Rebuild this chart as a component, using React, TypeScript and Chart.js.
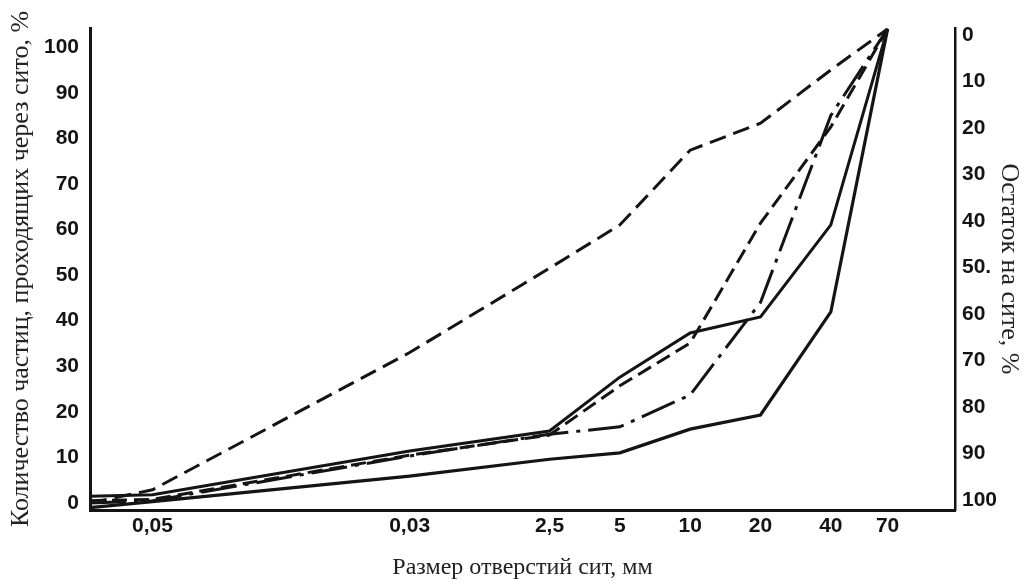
import React, { useEffect, useRef } from "react";
import { Chart, registerables } from "chart.js";

Chart.register(...registerables);

// Sieve openings, mm (first entry = origin of the axis where the curves start)
const sieveSizes = [0.027, 0.05, 0.63, 2.5, 5, 10, 20, 40, 70];
const xTickValues = [0.05, 0.63, 2.5, 5, 10, 20, 40, 70];
const xTickLabels = ["0,05", "0,03", "2,5", "5", "10", "20", "40", "70"];

// Passing through the sieve, %
const curveDashLong = [0, 2.9, 33, 51.5, 61, 77.4, 83.3, 95, 104];
const curveSolidUpper = [1.5, 1.8, 11.4, 15.8, 27.6, 37.3, 40.8, 61, 104];
const curveDashShort = [0.5, 0.8, 10.5, 14.9, 25.7, 35.1, 61.4, 82.5, 104];
const curveDashDot = [0, 0.5, 10.3, 15.1, 16.7, 23.7, 44, 85, 104];
const curveSolidLower = [-1, 0.3, 5.9, 9.6, 11, 16.2, 19.3, 41.9, 104];

const leftTicks = [0, 10, 20, 30, 40, 50, 60, 70, 80, 90, 100];
const rightTicks = [0, 10, 20, 30, 40, 50, 60, 70, 80, 90, 100];
const rightTickLabels = ["0", "10", "20", "30", "40", "50.", "60", "70", "80", "90", "100"];

const INK = "#141414";
const tickFont = {
  family: "'Liberation Sans', Arial, sans-serif",
  size: 21,
  weight: "bold" as const,
};
const vTitleFont = { family: "'Liberation Serif', 'DejaVu Serif', serif", size: 26 };
const hTitleFont = { family: "'Liberation Serif', 'DejaVu Serif', serif", size: 24 };

function series(values: number[]) {
  return values.map((v, i) => ({ x: sieveSizes[i], y: v }));
}

export default function App() {
  const ref = useRef<HTMLCanvasElement | null>(null);

  useEffect(() => {
    if (!ref.current) return;
    const common = {
      borderColor: INK,
      backgroundColor: INK,
      pointRadius: 0,
      tension: 0,
      fill: false,
      clip: false as const,
      borderCapStyle: "butt" as const,
      yAxisID: "y",
    };
    const chart = new Chart(ref.current, {
      type: "line",
      data: {
        datasets: [
          { ...common, label: "1", data: series(curveDashLong), borderWidth: 3, borderDash: [17, 8] },
          { ...common, label: "2", data: series(curveSolidUpper), borderWidth: 3 },
          { ...common, label: "3", data: series(curveDashShort), borderWidth: 3, borderDash: [15, 7] },
          { ...common, label: "4", data: series(curveDashDot), borderWidth: 3, borderDash: [36, 8, 4, 8] },
          { ...common, label: "5", data: series(curveSolidLower), borderWidth: 3.2 },
        ],
      },
      options: {
        animation: false,
        responsive: true,
        maintainAspectRatio: false,
        layout: { padding: { top: 28, left: 0, right: 0, bottom: 0 } },
        plugins: { legend: { display: false }, tooltip: { enabled: false } },
        scales: {
          x: {
            type: "logarithmic",
            min: 0.027,
            max: 136,
            grid: { display: false, drawTicks: false },
            border: { display: true, color: INK, width: 3 },
            afterBuildTicks: (scale: any) => {
              scale.ticks = xTickValues.map((v) => ({ value: v }));
            },
            afterFit: (scale: any) => {
              scale.height = 75;
            },
            ticks: {
              autoSkip: false,
              maxRotation: 0,
              padding: 4,
              color: INK,
              font: tickFont,
              callback: (_v: any, i: number) => xTickLabels[i],
            },
            title: {
              display: true,
              text: "Размер отверстий сит, мм",
              color: "#222",
              font: hTitleFont,
              padding: { top: 0, bottom: 3 },
            },
          },
          y: {
            type: "linear",
            position: "left",
            min: -1.54,
            max: 104.2,
            grid: { display: false, drawTicks: false },
            border: { display: true, color: INK, width: 3 },
            afterBuildTicks: (scale: any) => {
              scale.ticks = leftTicks.map((v) => ({ value: v }));
            },
            afterFit: (scale: any) => {
              scale.width = 90;
            },
            ticks: { padding: 11, color: INK, font: tickFont },
            title: {
              display: true,
              text: "Количество частиц, проходящих через сито, %",
              color: "#222",
              font: vTitleFont,
              padding: { top: 6, bottom: 0 },
            },
          },
          y1: {
            type: "linear",
            position: "right",
            reverse: true,
            min: -1.5,
            max: 102.15,
            grid: { display: false, drawTicks: false },
            border: { display: true, color: INK, width: 2.5 },
            afterBuildTicks: (scale: any) => {
              scale.ticks = rightTicks.map((v) => ({ value: v }));
            },
            afterFit: (scale: any) => {
              scale.width = 69;
            },
            ticks: {
              padding: 7,
              color: INK,
              font: tickFont,
              callback: (_v: any, i: number) => rightTickLabels[i],
            },
            title: {
              display: true,
              text: "Остаток на сите, %",
              color: "#222",
              font: vTitleFont,
              padding: { top: 0, bottom: 0 },
            },
          },
        },
      },
    });
    return () => chart.destroy();
  }, []);

  return (
    <div style={{ position: "fixed", left: 0, top: 0, width: 1024, height: 585, background: "#fff" }}>
      <canvas ref={ref} />
    </div>
  );
}
